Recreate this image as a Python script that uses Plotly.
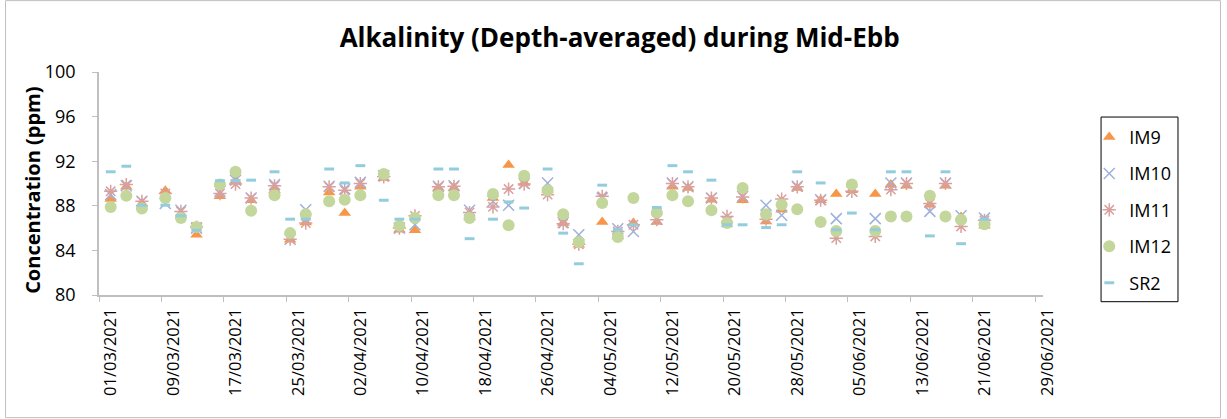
import pandas as pd
import plotly.graph_objects as go

# sampling dates
dates = ["2021-03-02", "2021-03-04", "2021-03-06", "2021-03-09", "2021-03-11", "2021-03-13",
         "2021-03-16", "2021-03-18", "2021-03-20", "2021-03-23", "2021-03-25", "2021-03-27",
         "2021-03-30", "2021-04-01", "2021-04-03", "2021-04-06", "2021-04-08", "2021-04-10",
         "2021-04-13", "2021-04-15", "2021-04-17", "2021-04-20", "2021-04-22", "2021-04-24",
         "2021-04-27", "2021-04-29", "2021-05-01", "2021-05-04", "2021-05-06", "2021-05-08",
         "2021-05-11", "2021-05-13", "2021-05-15", "2021-05-18", "2021-05-20", "2021-05-22",
         "2021-05-25", "2021-05-27", "2021-05-29", "2021-06-01", "2021-06-03", "2021-06-05",
         "2021-06-08", "2021-06-10", "2021-06-12", "2021-06-15", "2021-06-17", "2021-06-19",
         "2021-06-22"]

im9 = [88.6, 89.7, 88.2, 89.35, 87.2, 85.4, 88.85, 90.25, 88.5, 89.4, 84.95, 86.5,
       89.2, 87.35, 89.7, 90.5, 85.85, 85.8, 89.6, 89.6, 86.95, 88.7, 91.65, 90.05,
       89.45, 86.45, 84.5, 86.55, 85.25, 86.45, 86.55, 89.7, 89.6, 88.55, 86.75, 88.5,
       86.6, 87.65, 89.6, 88.5, 89.05, 89.4, 89.05, 89.9, 89.8, 88.1, 89.8, 87.0, 86.2]
im10 = [89.0, 89.8, 88.4, 88.2, 87.6, 86.0, 89.3, 90.3, 88.7, 89.9, 85.0, 87.65,
        89.75, 89.5, 90.1, 90.7, 86.0, 86.3, 89.75, 89.8, 87.6, 88.4, 88.05, 90.0,
        90.05, 86.5, 85.4, 88.7, 85.95, 85.7, 86.8, 90.05, 89.7, 88.7, 86.6, 88.85,
        88.05, 87.15, 89.75, 88.55, 86.85, 89.3, 86.85, 90.05, 90.05, 87.5, 90.05, 87.1, 86.9]
im11 = [89.3, 89.9, 88.4, 89.1, 87.5, 86.1, 89.1, 89.95, 88.7, 89.8, 85.0, 86.45,
        89.7, 89.4, 90.0, 90.6, 86.0, 87.1, 89.7, 89.75, 87.4, 87.9, 89.5, 89.95,
        89.0, 86.4, 84.55, 88.85, 85.7, 86.3, 86.75, 90.0, 89.7, 88.7, 87.05, 88.8,
        86.8, 88.6, 89.7, 88.5, 85.1, 89.3, 85.25, 89.45, 90.0, 88.2, 90.0, 86.15, 86.7]
im12 = [87.9, 88.9, 87.75, 88.7, 86.9, 86.1, 89.9, 91.05, 87.55, 88.95, 85.55, 87.25,
        88.4, 88.55, 88.95, 90.85, 86.2, 86.9, 88.95, 88.95, 86.9, 89.05, 86.25, 90.7,
        89.4, 87.25, 84.75, 88.25, 85.2, 88.7, 87.4, 88.95, 88.4, 87.6, 86.45, 89.6,
        87.25, 88.1, 87.7, 86.55, 85.75, 89.9, 85.75, 87.05, 87.05, 88.9, 87.05, 86.75, 86.35]
sr2 = [91.05, 91.55, 88.05, 88.05, 87.1, 85.8, 90.25, 90.25, 90.3, 91.05, 86.8, 86.8,
       91.3, 90.05, 91.6, 88.5, 86.8, 86.8, 91.3, 91.3, 85.05, 86.8, 88.35, 87.8,
       91.3, 85.55, 82.8, 89.85, 85.85, 86.3, 87.85, 91.6, 91.05, 90.3, 86.3, 86.3,
       86.05, 86.3, 91.05, 90.05, 85.85, 87.35, 85.85, 91.05, 91.05, 85.3, 91.05, 84.6, 86.8]

tick_dates = ["2021-03-01", "2021-03-09", "2021-03-17", "2021-03-25", "2021-04-02", "2021-04-10",
              "2021-04-18", "2021-04-26", "2021-05-04", "2021-05-12", "2021-05-20", "2021-05-28",
              "2021-06-05", "2021-06-13", "2021-06-21", "2021-06-29"]
tick_labels = ["01/03/2021", "09/03/2021", "17/03/2021", "25/03/2021", "02/04/2021", "10/04/2021",
               "18/04/2021", "26/04/2021", "04/05/2021", "12/05/2021", "20/05/2021", "28/05/2021",
               "05/06/2021", "13/06/2021", "21/06/2021", "29/06/2021"]

# excel date axis puts each day in the middle of its slot
x = pd.to_datetime(dates) + pd.Timedelta(hours=12)

FONT = "Open Sans"

fig = go.Figure()
fig.add_trace(go.Scatter(x=x, y=im9, mode="markers", name="IM9", legendgroup="a",
                         marker=dict(symbol="triangle-up", size=11, color="#F79646")))
fig.add_trace(go.Scatter(x=x, y=im10, mode="markers", name="IM10", legendgroup="b",
                         marker=dict(symbol="x-thin-open", size=11, color="#9DB1DB",
                                     line=dict(width=1.5))))
fig.add_trace(go.Scatter(x=x, y=im11, mode="markers", name="IM11", legendgroup="c",
                         marker=dict(symbol="asterisk-open", size=11, color="#D9A09E",
                                     line=dict(width=1.5))))
fig.add_trace(go.Scatter(x=x, y=im12, mode="markers", name="IM12", legendgroup="d",
                         marker=dict(symbol="circle", size=12, color="#C3D69B")))
fig.add_trace(go.Scatter(x=x, y=sr2, mode="markers", name="SR2", legendgroup="e",
                         marker=dict(symbol="line-ew-open", size=7, color="#93CDDD",
                                     line=dict(width=3))))

fig.update_layout(
    width=1227, height=419,
    margin=dict(l=99, r=184, t=72, b=124, autoexpand=False),
    paper_bgcolor="white", plot_bgcolor="white",
    font=dict(family=FONT, color="black", size=16),
    title=dict(text="<b>Alkalinity (Depth-averaged) during Mid-Ebb</b>",
               x=0.505, xanchor="center", y=0.909, yanchor="middle",
               font=dict(size=26, family=FONT)),
    legend=dict(x=1.049, y=0.79, xanchor="left", yanchor="top",
                traceorder="grouped", tracegroupgap=10,
                font=dict(size=18, family=FONT), bgcolor="rgba(0,0,0,0)"),
    shapes=[
        dict(type="rect", xref="paper", yref="paper", x0=1.0615, x1=1.143, y0=-0.030, y1=0.798,
             line=dict(color="black", width=1)),
        dict(type="rect", xref="paper", yref="paper", x0=-0.099, x1=1.188, y0=-0.55, y1=1.32,
             line=dict(color="#bfbfbf", width=1)),
    ],
    annotations=[
        dict(text="<b>Concentration (ppm)</b>", textangle=-90, showarrow=False,
             xref="paper", yref="paper", x=-0.0699, y=0.467, xanchor="center", yanchor="middle",
             font=dict(size=20, family=FONT)),
    ],
)

fig.update_xaxes(
    type="date", range=["2021-03-01", "2021-06-30"],
    tickvals=tick_dates, ticktext=tick_labels, tickangle=-90,
    ticks="outside", ticklen=5, tickcolor="#bfbfbf",
    showline=True, linecolor="#bfbfbf", linewidth=1.5, showgrid=False, zeroline=False,
    tickfont=dict(size=16.5, family=FONT), ticklabelshift=12,
)
fig.update_yaxes(
    range=[80, 100], tickvals=[80, 84, 88, 92, 96, 100],
    ticks="outside", ticklen=5, tickcolor="#bfbfbf",
    showline=True, linecolor="#bfbfbf", linewidth=1.5, showgrid=False, zeroline=False,
    tickfont=dict(size=18, family=FONT), ticklabelstandoff=13,
)

# page body has a default 8px margin; drop it so the figure sits at the window origin
fig.write_html("out.html", config={"displayModeBar": False},
               post_script="document.body.style.margin = '0';")
